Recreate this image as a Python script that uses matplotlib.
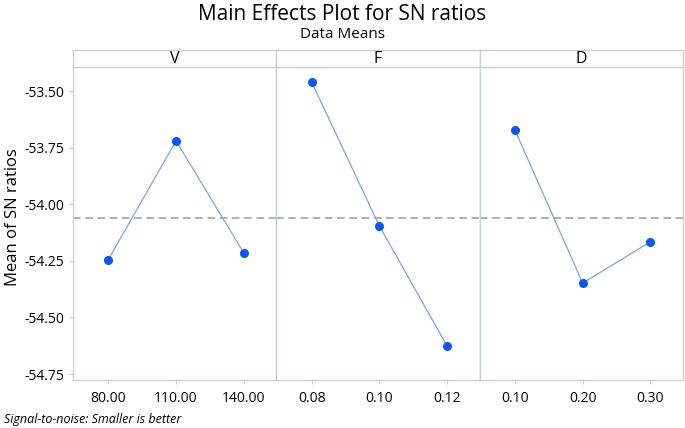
import numpy as np
import matplotlib.pyplot as plt

plt.rcParams['font.family'] = ['Open Sans', 'DejaVu Sans']

# factors and their levels
factors = ['V', 'F', 'D']
level_labels = [['80.00', '110.00', '140.00'],
                ['0.08', '0.10', '0.12'],
                ['0.10', '0.20', '0.30']]
sn_V = [-54.245, -53.72, -54.215]
sn_F = [-53.46, -54.096, -54.626]
sn_D = [-53.672, -54.348, -54.166]
sn_means = [sn_V, sn_F, sn_D]
grand_mean = -54.062

yticks = [-53.50, -53.75, -54.00, -54.25, -54.50, -54.75]

frame_col = '#c9d3d3'
line_col = '#7aa6e6'
dot_col = '#1155ee'

fig = plt.figure(figsize=(6.85, 4.28), dpi=100)

left, right = 73 / 685, 683 / 685
bottom, top = 1 - 380 / 428, 1 - 67 / 428
head_top = 1 - 50 / 428
pw = (right - left) / 3

for i, name in enumerate(factors):
    ax = fig.add_axes([left + i * pw, bottom, pw, top - bottom])
    x = np.arange(3)
    ax.plot(x, sn_means[i], color=line_col, lw=0.9, zorder=2)
    ax.plot(x, sn_means[i], 'o', color=dot_col, ms=5.5, zorder=3)
    ax.axhline(grand_mean, color='#9a9a9a', lw=1.1, ls=(0, (5, 3)), zorder=1)
    ax.set_xlim(-0.52, 2.48)
    ax.set_ylim(-54.776, -53.394)
    ax.set_xticks(x)
    ax.set_xticklabels(level_labels[i], fontsize=10)
    ax.set_yticks(yticks)
    for s in ax.spines.values():
        s.set_color(frame_col)
        s.set_linewidth(1)
    ax.tick_params(axis='x', length=3, color=frame_col, pad=5)
    ax.tick_params(axis='y', length=3, color=frame_col, pad=3)
    if i == 0:
        ax.set_yticklabels([f'{v:.2f}' for v in yticks], fontsize=10)
        ax.set_ylabel('Mean of SN ratios', fontsize=12)
        ax.yaxis.set_label_coords(-0.255, 0.52)
    else:
        ax.tick_params(axis='y', left=False, labelleft=False)

    # header strip
    hx = fig.add_axes([left + i * pw, top, pw, head_top - top])
    hx.set_xticks([])
    hx.set_yticks([])
    for s in hx.spines.values():
        s.set_color(frame_col)
        s.set_linewidth(1)
    hx.text(0.5, 0.45, name, ha='center', va='center', fontsize=11.5,
            transform=hx.transAxes)

fig.text(0.5, 1 - 15 / 428, 'Main Effects Plot for SN ratios', ha='center',
         va='center', fontsize=15)
fig.text(0.5, 1 - 34 / 428, 'Data Means', ha='center', va='center',
         fontsize=11)
fig.text(4 / 685, 1 - 420 / 428, 'Signal-to-noise: Smaller is better',
         ha='left', va='center', fontsize=9, style='italic')

fig.savefig('out.png', dpi=100)
